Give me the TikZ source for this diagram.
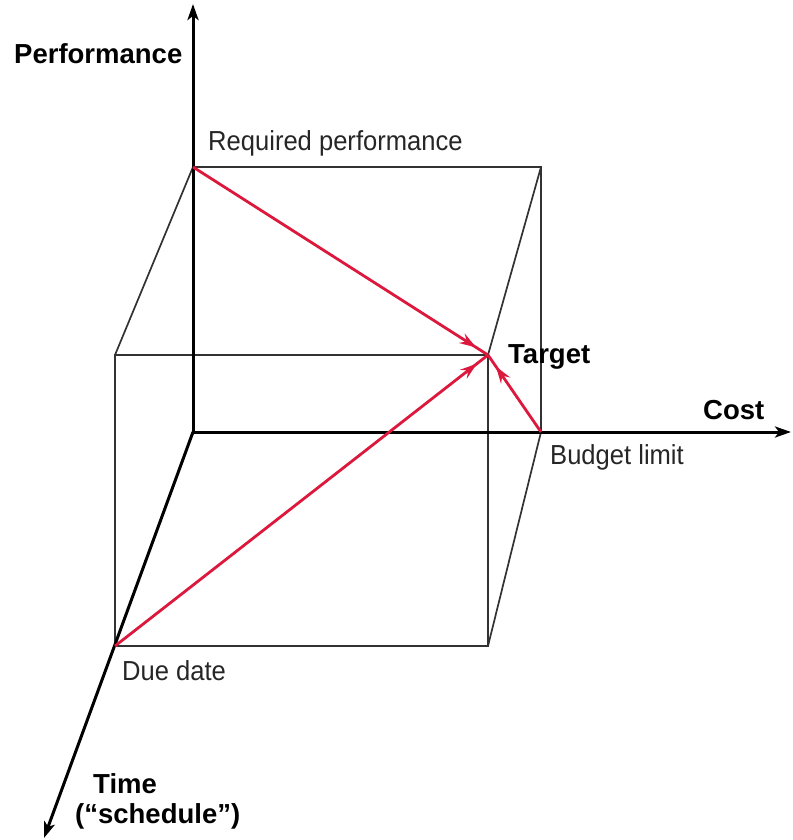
\documentclass[tikz,border=0pt]{standalone}
\usepackage{fontspec}
\setmainfont{Liberation Sans}
\newfontfamily\narrowfont{Liberation Sans}[FakeStretch=0.93]
\usetikzlibrary{arrows.meta,decorations.markings}
\definecolor{goalred}{RGB}{220,25,60}
\definecolor{edgegray}{RGB}{50,50,50}
\tikzset{
  axisline/.style={line width=3pt, draw=black, -{Stealth[length=16pt,width=11pt,inset=4pt]}},
  cubeline/.style={line width=1.7pt, draw=edgegray},
  goalline/.style={line width=2.8pt, draw=goalred, postaction={decorate},
    decoration={markings, mark=at position -14pt with {\arrow[goalred]{Stealth[length=17pt,width=11pt,inset=6pt]}}}},
  boldlbl/.style={inner sep=0pt, anchor=base west, font=\fontsize{27.5}{30}\selectfont\bfseries},
  plainlbl/.style={inner sep=0pt, anchor=base west, font=\narrowfont\fontsize{27.5}{30}\selectfont, text=black!85}
}
\begin{document}
\begin{tikzpicture}[x=1pt,y=-1pt]
\useasboundingbox (0,0) rectangle (792,840);
% key points
\coordinate (O) at (193,432);
\coordinate (P) at (193,167);
\coordinate (B) at (541,432);
\coordinate (BT) at (541,167);
\coordinate (T) at (488,355);
\coordinate (FL) at (115,355);
\coordinate (D) at (115,646);
\coordinate (FR) at (488,646);
\coordinate (perftip) at (193,4);
\coordinate (costtip) at (791,432);
\coordinate (timetip) at (44,838);
% cube edges
\draw[cubeline] (P) -- (BT) -- (B);
\draw[cubeline] (FL) -- (T) -- (FR) -- (D) -- cycle;
\draw[cubeline] (P) -- (FL);
\draw[cubeline] (BT) -- (T);
\draw[cubeline] (B) -- (FR);
% axes
\draw[axisline] (O) -- (perftip);
\draw[axisline] (O) -- (costtip);
\draw[axisline] (O) -- (timetip);
% goal arrows
\draw[goalline] (P) -- (T);
\draw[goalline] (D) -- (T);
\draw[goalline] (B) -- (T);
% labels
\node[boldlbl] (perflbl) at (14,64) {Performance};
\node[plainlbl] (reqlbl) at (208,150) {Required performance};
\node[boldlbl] (targetlbl) at (508,363) {Target};
\node[boldlbl] (costlbl) at (703,419) {Cost};
\node[plainlbl] (budgetlbl) at (550,464) {Budget limit};
\node[plainlbl] (duelbl) at (122,680) {Due date};
\node[boldlbl] (timelbl) at (93,793) {Time};
\node[boldlbl] (schedlbl) at (75,823) {(“schedule”)};
\end{tikzpicture}
\end{document}
